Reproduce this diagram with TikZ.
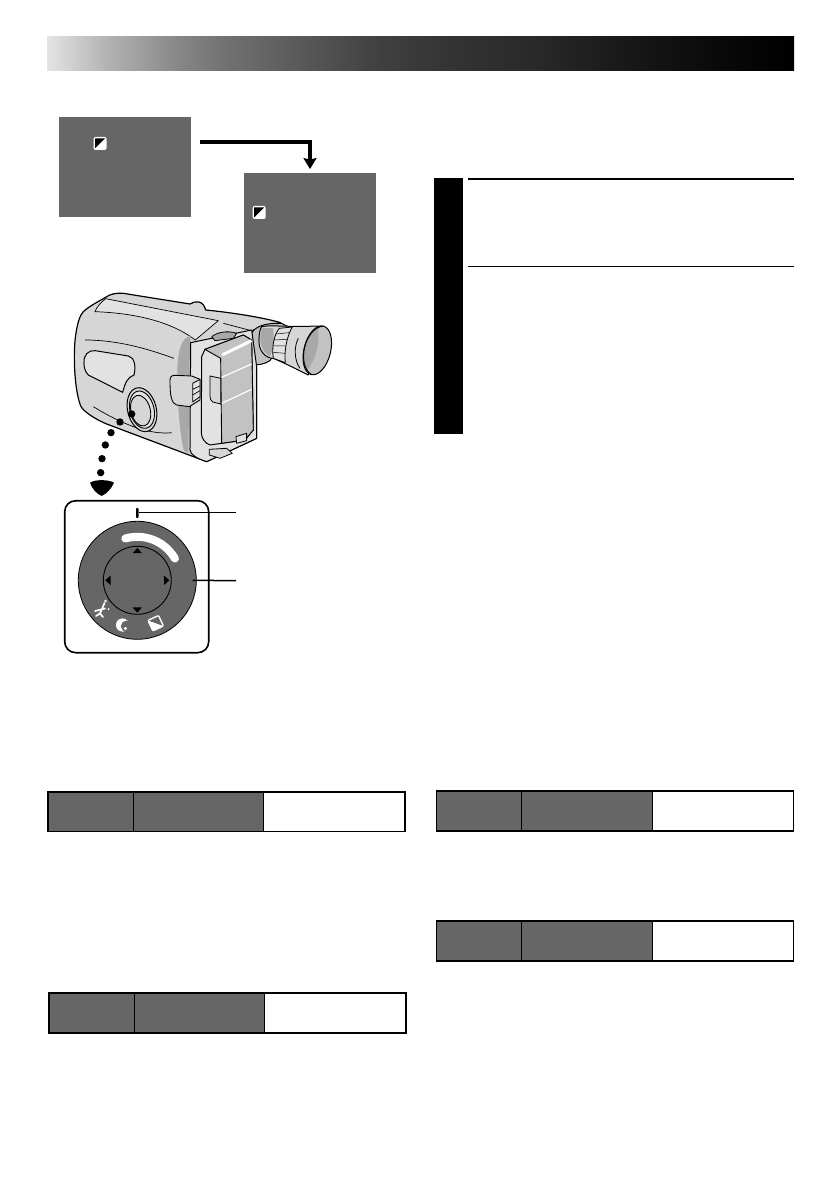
\documentclass[tikz,border=0pt]{standalone}
\usetikzlibrary{arrows.meta}

\definecolor{panelgray}{HTML}{666666}
\definecolor{bodygray}{HTML}{D6D6D6}
\definecolor{lightgray}{HTML}{E2E2E2}
\definecolor{midgray}{HTML}{C2C2C2}
\definecolor{stripegray}{HTML}{A8A8A8}
\definecolor{icondark}{HTML}{383838}
\definecolor{hdA}{HTML}{E4E4E4}
\definecolor{hdB}{HTML}{B4B4B4}
\definecolor{hdC}{HTML}{868686}
\definecolor{hdD}{HTML}{707070}
\definecolor{hdE}{HTML}{585858}
\definecolor{hdF}{HTML}{404040}
\definecolor{hdG}{HTML}{333333}
\definecolor{hdH}{HTML}{2A2A2A}
\definecolor{hdI}{HTML}{181818}
\definecolor{hdJ}{HTML}{080808}
\pgfdeclarehorizontalshading{hdrshade}{100bp}{color(0bp)=(hdA); color(25bp)=(hdA); color(28.9bp)=(hdB); color(33.9bp)=(hdC); color(37.2bp)=(hdD); color(42.2bp)=(hdE); color(47.2bp)=(hdF); color(52.2bp)=(hdG); color(57.2bp)=(hdH); color(63.8bp)=(hdI); color(70.5bp)=(hdJ); color(75bp)=(black); color(100bp)=(black)}

\tikzset{
    screen/.style = {fill = panelgray, minimum width = 132pt, minimum height = 100pt, inner sep = 0pt},
    rulebar/.style = {fill = black, minimum width = 326pt, inner sep = 0pt},
    tabframe/.style = {draw, line width = 1.8pt, minimum width = 356.9pt, minimum height = 39.8pt, inner sep = 0pt},
    darkcell/.style = {draw, line width = 0.8pt, fill = panelgray, minimum height = 39.8pt, inner sep = 0pt},
    dotmark/.style = {circle, fill = black, minimum size = 7.4pt, inner sep = 0pt},
    bwicon/.pic = {
        \fill [white, rounded corners = 2pt] (-6.5,-6.5) rectangle (6.5,6.5);
        \fill [#1] (-5,-5) -- (5,-5) -- (-5,5) -- cycle;
    },
    bwicon/.default = icondark
}

\begin{document}
\begin{tikzpicture}[x=1pt,y=-1pt]
            \useasboundingbox (0,0) rectangle (838,1190);
            %Header
            \node [shading = hdrshade, minimum width = 747pt, minimum height = 34pt, inner sep = 0pt]
            (hdr)at(420.5,54){};

            %Screens
            \node [screen]
            (scr1)at(125,167){};
            \node [screen]
            (scr2)at(310,223){};
            \pic at (100,143.5) {bwicon};
            \pic at (259.2,212.5) {bwicon};
            \coordinate (arrstart) at (200,141.8);
            \draw [line width = 3.7pt, shorten > = 3.7pt, -{Stealth[length = 11pt, width = 13pt, inset = 1.5pt]}]
            (arrstart) -| (scr2.north);

            %Black tab and rules
            \node [fill = black, minimum width = 29pt, minimum height = 256pt, inner sep = 0pt]
            (tab)at(448.5,306){};
            \node [rulebar, minimum height = 2.2pt]
            (rule1)at(631,179){};
            \node [rulebar, minimum height = 1.1pt]
            (rule2)at(631,266.4){};

            %Camera
            \begin{scope}[shift={(40,280)},x=0.3333pt,y=-0.3333pt,line join=round]
                %Outline
                \draw [line width = 1.2pt, fill = bodygray]
                (130,95) .. controls (148,78) and (180,62) .. (197,52)
                .. controls (210,42) and (230,38) .. (250,40) -- (450,72)
                .. controls (465,62) and (490,60) .. (497,90)
                .. controls (560,96) and (660,110) .. (722,128)
                -- (640,150) -- (640,255) -- (650,260) -- (650,475) -- (500,545)
                -- (200,432) .. controls (170,420) and (130,395) .. (122,378)
                .. controls (100,320) and (100,200) .. (108,160)
                .. controls (112,130) and (120,105) .. (130,95) -- cycle;
                %Viewfinder
                \begin{scope}[shift={(450,30)}]
                    \draw [line width = 1pt, fill = midgray]
                    (185,130) .. controls (195,110) and (225,98) .. (275,100)
                    -- (300,113) -- (240,212) .. controls (225,222) and (200,228) .. (187,222) -- cycle;
                    \draw [line width = 1pt, fill = bodygray]
                    (215,110) .. controls (240,104) and (290,112) .. (385,108)
                    -- (355,255) .. controls (335,245) and (290,222) .. (250,205)
                    .. controls (225,205) and (205,180) .. (207,150) .. controls (207,130) and (210,118) .. (215,110) -- cycle;
                    \fill [stripegray] (216,113) .. controls (207,140) and (207,180) .. (240,200) -- (252,165) -- (250,115) -- cycle;
                    \draw [line width = 0.8pt, fill = lightgray]
                    (268,115) -- (307,111) .. controls (290,140) and (282,185) .. (286,218) -- (250,205) .. controls (245,170) and (252,135) .. (268,115) -- cycle;
                    \draw [line width = 0.5pt] (258,132) -- (297,128) (252,150) -- (291,148) (250,168) -- (287,168) (250,187) -- (285,190);
                    \draw [line width = 0.8pt] (325,145) .. controls (312,170) and (312,210) .. (330,235);
                    \draw [line width = 1pt, fill = midgray, rotate around = {-14:(382,181)}]
                    (382,181) ellipse (40 and 75);
                    \fill [stripegray, rotate around = {-14:(382,181)}]
                    (368,118) .. controls (335,150) and (335,215) .. (368,245) .. controls (385,200) and (385,160) .. (368,118) -- cycle;
                    \draw [line width = 0.9pt, rotate around = {-14:(382,181)}]
                    (382,106) .. controls (330,125) and (330,235) .. (382,256);
                \end{scope}
                %Top face
                \draw [line width = 0.7pt, fill = lightgray]
                (197,56) -- (535,122) -- (466,180) .. controls (400,130) and (300,100) .. (165,95) .. controls (170,80) and (185,65) .. (197,56) -- cycle;
                \draw [line width = 0.7pt] (550,130) -- (638,153);
                \draw [line width = 0.7pt] (135,180) .. controls (230,180) and (320,205) .. (402,235);
                \draw [line width = 0.7pt] (160,380) .. controls (200,405) and (240,425) .. (280,440) .. controls (320,455) and (365,462) .. (395,458);
                %Stripe
                \fill [stripegray]
                (452,168) .. controls (425,172) and (412,210) .. (412,280) .. controls (412,370) and (420,470) .. (432,512)
                -- (445,520) .. controls (448,420) and (445,280) .. (452,190) -- cycle;
                %Side panel
                \draw [line width = 1pt, fill = lightgray]
                (452,188) -- (635,150) -- (650,260) -- (650,475) -- (500,545) .. controls (470,535) and (452,525) .. (450,510) -- cycle;
                %Top gadget
                \draw [line width = 0.8pt, fill = stripegray]
                (515,170) .. controls (530,158) and (560,150) .. (590,160) -- (580,175) -- (525,182) -- cycle;
                %Door
                \draw [line width = 1pt, fill = lightgray]
                (485,230) -- (495,208) -- (610,165) -- (635,180) -- (640,450) -- (615,480) -- (510,495) .. controls (495,490) and (485,475) .. (484,460) -- cycle;
                \draw [line width = 0.9pt, fill = midgray]
                (495,208) -- (610,165) -- (635,180) -- (640,450) -- (615,480) -- (545,490) -- (542,235) -- cycle;
                \draw [white, line width = 3pt] (546,225) -- (635,182);
                \draw [white, line width = 1.2pt] (545,292) -- (635,252) (545,370) -- (635,328);
                \draw [line width = 0.8pt, fill = bodygray]
                (510,288) -- (542,295) -- (542,372) -- (518,366) .. controls (512,362) and (510,355) .. (510,348) -- cycle;
                %Foot
                \draw [line width = 0.8pt, fill = bodygray]
                (508,508) -- (560,505) -- (577,520) -- (540,535) -- (508,525) -- cycle;
                \draw [line width = 0.8pt, fill = lightgray] (588,470) -- (620,460) -- (620,482) -- (590,490) -- cycle;
                %Grip
                \draw [line width = 0.9pt, fill = bodygray]
                (390,302) .. controls (390,290) and (395,286) .. (405,286) -- (455,288) -- (480,298) -- (480,360)
                -- (448,380) -- (410,375) .. controls (395,370) and (390,350) .. (390,302) -- cycle;
                \draw [line width = 0.8pt, fill = lightgray] (458,310) -- (480,298) -- (480,350) -- (458,366) -- cycle;
                \draw [line width = 0.7pt] (458,328) -- (480,318) (458,345) -- (480,332);
                %Window
                \draw [line width = 1pt, fill = lightgray]
                (132,250) .. controls (130,225) and (145,210) .. (165,212) -- (265,228)
                .. controls (285,232) and (288,262) .. (282,285) .. controls (262,292) and (255,310) .. (248,337)
                -- (145,285) .. controls (135,275) and (132,262) .. (132,250) -- cycle;
                %Lens
                \draw [line width = 1pt, fill = bodygray, rotate around = {14:(306,389)}]
                (306,389) ellipse (43 and 67);
                \draw [line width = 0.9pt, fill = lightgray, rotate around = {14:(306,389)}]
                (306,389) ellipse (36 and 57);
                \draw [line width = 0.9pt, fill = bodygray, rotate around = {14:(302,392)}]
                (302,392) ellipse (29 and 47);
                %Dots
                \node [dotmark] (d1)at(275,402){};
                \node [dotmark] (d2)at(240,426){};
                \node [dotmark] (d3)at(213,458){};
                \node [dotmark] (d4)at(196,495){};
                \node [dotmark] (d5)at(186,536){};
                \node [dotmark] (d6)at(182,578){};
                \fill (150,608) .. controls (165,598) and (205,598) .. (222,608)
                .. controls (215,625) and (200,642) .. (185,648) .. controls (170,642) and (155,625) .. (150,608) -- cycle;
            \end{scope}

            %Dial panel
            \node [draw, line width = 1.6pt, rounded corners = 11pt, minimum width = 144pt, minimum height = 152pt, inner sep = 0pt]
            (dialbox)at(136.7,576.7){};
            \node [draw, line width = 0.8pt, circle, fill = panelgray, minimum size = 118pt, inner sep = 0pt]
            (dial)at(137.3,580.3){};
            \draw [white, line width = 8pt, line cap = round]
            (125.3,538.5) arc [start angle = -106, end angle = -30, radius = 43.5];
            \node [draw, line width = 0.9pt, circle, fill = panelgray, minimum size = 68pt, inner sep = 0pt]
            (dialin)at(137.3,580.3){};
            \fill (137.3,548) -- (142,553.2) -- (132.6,553.2) -- cycle;
            \fill (137.3,612.6) -- (142,607.4) -- (132.6,607.4) -- cycle;
            \fill (105.3,580.3) -- (110.5,575.6) -- (110.5,585) -- cycle;
            \fill (169.3,580.3) -- (164.1,575.6) -- (164.1,585) -- cycle;
            %Tick and leaders
            \node [fill = black, rounded corners = 0.8pt, minimum width = 2.4pt, minimum height = 10pt, inner sep = 0pt]
            (tick)at(137.3,513){};
            \coordinate (tickend) at (236,512.4);
            \coordinate (dialend) at (236,580.7);
            \draw [line width = 1.1pt] (tick.east |- tickend) -- (tickend);
            \draw [line width = 1.5pt] ([xshift = -4pt]dial.east) -- (dialend);
            %Runner
            \draw [white, line width = 1.7pt, line cap = round]
            (104.5,603) -- (100,613.5) (100,613.5) -- (96,616) (100,613.5) -- (103,617)
            (95,611) -- (105,608.5);
            \fill [white] (105.5,601) circle (1.3pt);
            \fill [white] (108.5,609) circle (1pt);
            %Moon
            \fill [white] (122.5,625) circle (6.6pt);
            \fill [panelgray] (126.5,626.2) circle (5.6pt);
            \fill [white] (125.4,628.4) circle (1.7pt);
            %Icon on the dial
            \pic [rotate = -65] at (155.7,623.2) {bwicon = panelgray};

            %Table one
            \node [darkcell, minimum width = 86pt]
            (t1a)at(90.6,811.5){};
            \node [darkcell, minimum width = 130pt]
            (t1b)at(198.3,811.5){};
            \node [tabframe]
            (t1)at(226.6,811.5){};
            %Table two
            \node [darkcell, minimum width = 86pt]
            (t2a)at(91.8,1012.8){};
            \node [darkcell, minimum width = 130pt]
            (t2b)at(199.7,1012.8){};
            \node [tabframe]
            (t2)at(227.3,1012.8){};
            %Table three
            \node [darkcell, minimum width = 85pt]
            (t3a)at(478.8,811){};
            \node [darkcell, minimum width = 131pt]
            (t3b)at(586.8,811){};
            \node [tabframe]
            (t3)at(615,811){};
            %Table four
            \node [darkcell, minimum width = 85pt]
            (t4a)at(478.8,941){};
            \node [darkcell, minimum width = 131pt]
            (t4b)at(586.8,941){};
            \node [tabframe]
            (t4)at(615,941){};
        \end{tikzpicture}
\end{document}
